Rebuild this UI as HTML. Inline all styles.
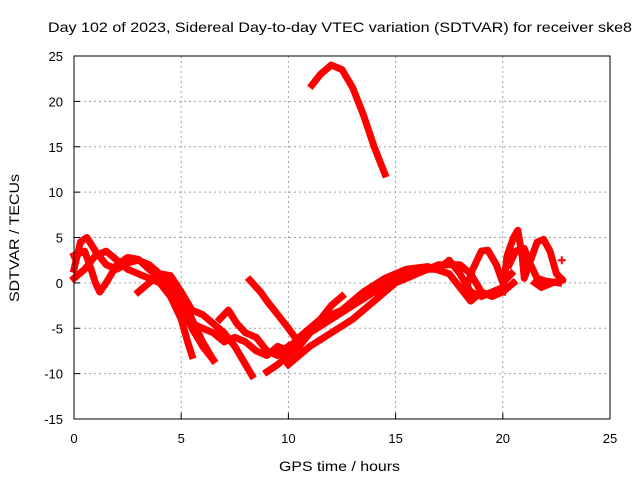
<!DOCTYPE html>
<html><head><meta charset="utf-8"><style>
body{margin:0;background:#fff}
svg text{font-family:"Liberation Sans",sans-serif;font-size:13px;fill:#000}
svg text.big{font-size:14px}
</style></head><body>
<svg id="chart" width="640" height="480">
<text class="big" x="48" y="32" textLength="584" lengthAdjust="spacingAndGlyphs">Day 102 of 2023, Sidereal Day-to-day VTEC variation (SDTVAR) for receiver ske8</text>
<text class="big" x="279" y="471" textLength="121" lengthAdjust="spacingAndGlyphs">GPS time / hours</text>
<text class="big" transform="translate(19,238) rotate(-90)" x="-64" y="0" textLength="128" lengthAdjust="spacingAndGlyphs">SDTVAR / TECUs</text>
<g id="grid"></g><g id="ticks"></g><g id="marks"></g>
<rect x="74" y="56" width="536" height="363" fill="none" stroke="#000" stroke-width="1"/>
</svg>
<script>
const xTicks=[0,5,10,15,20,25];
const yTicks=[-15,-10,-5,0,5,10,15,20,25];
const track1=[[11.1,21.8],[11.5,23],[12,24],[12.5,23.5],[13,21.5],[13.5,18.5],[14,15],[14.5,12]];
const track2=[[0,1.5],[0.3,4.5],[0.6,5],[1,3.5],[1.5,2],[2,1.5],[2.5,2.2],[3,2.5],[3.5,2],[4,1],[4.5,0.8],[5,-1],[5.5,-4],[6,-6.5],[6.5,-8.5]];
const track3=[[0,0.5],[0.5,1.5],[1,3],[1.5,3.5],[2,2.5],[2.5,1.5],[3,1],[3.5,0.5],[4,0],[4.5,-1.5],[5,-4],[5.3,-6.5],[5.5,-8]];
const track4=[[0,3],[0.5,3.5],[0.8,1.5],[1,0],[1.2,-1],[1.5,0],[2,2],[2.5,2.8],[3,2.6],[3.5,1.5],[4,0.5],[4.5,-0.5],[5,-2.5],[5.5,-5],[6,-7],[6.5,-8.5]];
const track5=[[3,-1],[3.5,0],[4,1],[4.5,0.5],[5,-1],[5.5,-3],[6,-3.5],[6.5,-4.5],[7,-5.5],[7.5,-7],[8,-9],[8.3,-10.2]];
const track6=[[5.5,-4.5],[6,-5],[6.5,-5.5],[7,-6.5],[7.5,-6],[8,-6.5],[8.5,-7.5],[9,-8],[9.5,-7],[10,-7.5],[10.5,-7]];
const track7=[[6.8,-4],[7.2,-3],[7.6,-4.5],[8,-5.5],[8.5,-6],[9,-7.5],[9.5,-8],[10,-7]];
const track8=[[8.2,0.3],[8.7,-1],[9,-2],[9.5,-3.5],[10,-5],[10.3,-6]];
const track9=[[9,-9.8],[9.5,-9],[10,-8],[10.5,-7],[11,-5.5],[11.5,-4],[12,-2.5],[12.5,-1.5]];
const track10=[[10,-9],[11,-7],[12,-5.5],[13,-4],[14,-2],[15,0],[16,1],[17,2],[18,2],[18.5,1],[19,-1],[19.5,-1.5],[20,-1],[20.5,0]];
const track11=[[10,-7],[11,-5.5],[12,-4],[13,-2.5],[14,-1],[15,0.5],[16,1.5],[17,1.5],[17.5,2.5],[18,1],[18.5,-1],[19,-1.5],[20,-0.5]];
const track12=[[10.5,-6],[11.5,-4],[12.5,-3],[13.5,-1],[14.5,0.5],[15.5,1.5],[16.5,1.8],[17.5,1],[18,-0.5],[18.5,-2],[19,-1]];
const track13=[[18.3,-0.5],[18.6,1.5],[19,3.5],[19.3,3.6],[19.7,2],[20,0],[20.4,1]];
const track14=[[20,-1],[20.2,3],[20.5,5],[20.7,5.8],[20.9,3],[21,0.5],[21.3,2.5],[21.6,4.5],[21.9,4.8],[22.2,3.5],[22.5,1],[22.8,0.3],[22.3,0],[21.8,-0.5],[21.5,0]];
const track15=[[20.3,2],[20.6,3.5],[21,3.8],[21.3,2],[21.6,0.5],[22,0.2],[22.6,0]];
const singlePoints=[[22.75,2.5]];
const tracks=[track1,track2,track3,track4,track5,track6,track7,track8,track9,track10,track11,track12,track13,track14,track15];
const NS='http://www.w3.org/2000/svg';
const X0=74,X1=610,Y0=419,Y1=56;
function sx(v){return X0+(v-0)/(25-0)*(X1-X0);}
function sy(v){return Y0-(v+15)/(40)*(Y0-Y1);}
function mk(t,a){const e=document.createElementNS(NS,t);for(const k in a)e.setAttribute(k,a[k]);return e;}
const grid=document.getElementById('grid'),ticks=document.getElementById('ticks'),marks=document.getElementById('marks');
xTicks.forEach(v=>{const x=sx(v);
 if(v>0&&v<25){const g=mk('line',{x1:x,x2:x,y1:Y1,y2:Y0,stroke:'#a0a0a0','stroke-dasharray':'2,3'});
 
 grid.appendChild(g);}
 const t=mk('text',{x:x,y:443,'text-anchor':'middle'});t.textContent=v;
 
 ticks.appendChild(t);
 const l=mk('line',{x1:x,x2:x,y1:Y0,y2:Y0-6,stroke:'#000'});
 
 ticks.appendChild(l);});
yTicks.forEach(v=>{const y=sy(v);
 if(v>-15&&v<25){const g=mk('line',{x1:X0,x2:X1,y1:y,y2:y,stroke:'#a0a0a0','stroke-dasharray':'2,3'});
 
 grid.appendChild(g);}
 const t=mk('text',{x:63,y:y+5,'text-anchor':'end'});t.textContent=v;
 
 ticks.appendChild(t);
 const l=mk('line',{x1:X0,x2:X0+6,y1:y,y2:y,stroke:'#000'});
 
 ticks.appendChild(l);});
tracks.forEach((tr,i)=>{
 const p=mk('polyline',{points:tr.map(d=>sx(d[0])+','+sy(d[1])).join(' '),fill:'none',stroke:'#ff0000','stroke-width':7,'stroke-linejoin':'round','stroke-linecap':'square'});
 
 
 marks.appendChild(p);});
singlePoints.forEach(d=>{const x=sx(d[0]),y=sy(d[1]);
 const p=mk('path',{d:`M${x-4},${y}H${x+4}M${x},${y-4}V${y+4}`,stroke:'#ff0000','stroke-width':2});
 
 
 marks.appendChild(p);});
</script>
</body></html>
